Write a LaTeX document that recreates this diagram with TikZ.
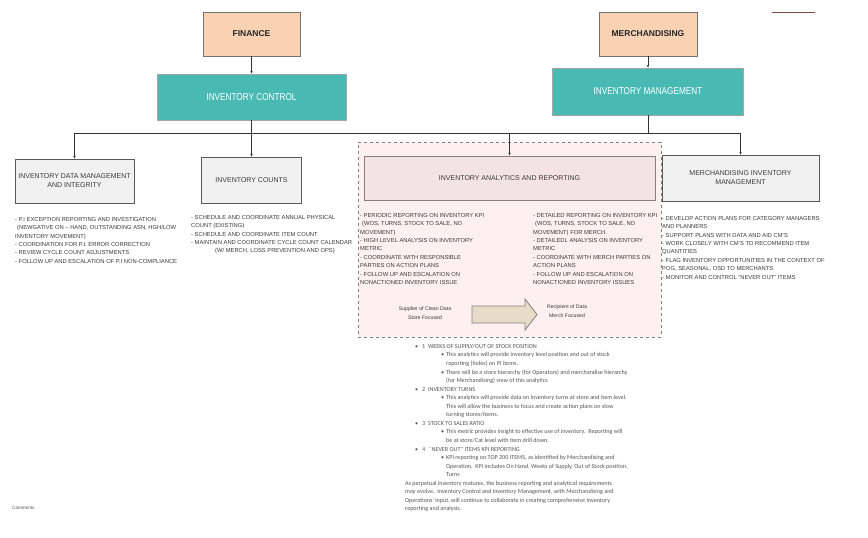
\documentclass[tikz,border=0pt]{standalone}
\usepackage{fontspec}
\setmainfont{Liberation Sans}
\newfontfamily\calfont{Carlito}
\newfontfamily\narrowfont[FakeStretch=0.82]{Liberation Sans}
\usetikzlibrary{arrows.meta}
\definecolor{peach}{HTML}{F9D2B4}
\definecolor{tealfill}{HTML}{48BAB3}
\definecolor{boxgray}{HTML}{F1F1F1}
\definecolor{pinkbg}{HTML}{FDF0F0}
\definecolor{pinkbox}{HTML}{F4E3E3}
\definecolor{mauve}{HTML}{8F7C7C}
\definecolor{beige}{HTML}{E6DDC9}
\definecolor{txt}{HTML}{3A3A3A}
\definecolor{ltxt}{HTML}{555555}
\definecolor{redline}{HTML}{8B4A4A}
\newcommand\bulA[1]{\hspace*{10pt}\makebox[7pt][l]{\textbullet}#1}
\newcommand\bulB[1]{\hspace*{36pt}\makebox[5pt][l]{\textbullet}#1}
\newcommand\contB[1]{\hspace*{41pt}#1}
\begin{document}
\begin{tikzpicture}[x=1pt,y=-1pt,
  orgbox/.style={draw=black!55, line width=0.6pt, inner sep=0pt, align=center},
  peachbox/.style={orgbox, fill=peach, minimum width=97pt, minimum height=44pt,
     font=\bfseries\fontsize{8.5}{10}\selectfont, text=black!85},
  tealbox/.style={orgbox, draw=black!35, fill=tealfill, text=white, minimum height=46pt,
     font=\narrowfont\fontsize{10}{12}\selectfont},
  graybox/.style={orgbox, draw=black!65, fill=boxgray, text=txt,
     font=\fontsize{7}{9}\selectfont},
  bullettext/.style={anchor=north west, align=left, inner sep=0pt, text=txt,
     font=\fontsize{5.8}{8.4}\selectfont},
  smalltext/.style={align=center, inner sep=0pt, text=txt, font=\fontsize{5.2}{8.5}\selectfont},
  conn/.style={draw=black!80, line width=0.5pt},
  arr/.style={conn, -{Stealth[length=3pt,width=2.4pt]}}
]
\useasboundingbox (0,0) rectangle (868,538);
\fill[white] (0,0) rectangle (868,538);

% top-right mark
\draw[redline, line width=0.8pt] (772,12) -- (815,12);

% dashed analytics region
\node[draw=black!50, dashed, line width=0.6pt, fill=pinkbg, minimum width=303pt, minimum height=195pt, inner sep=0pt] (region) at (509.5,239.5) {};

% top level
\node[peachbox] (fin) at (251.5,34) {FINANCE};
\node[peachbox, minimum width=98pt] (mer) at (648,34) {MERCHANDISING};
\node[tealbox, minimum width=189pt] (ic) at (251.5,97) {INVENTORY CONTROL};
\node[tealbox, minimum width=191pt, minimum height=47pt] (im) at (648,91.5) {INVENTORY MANAGEMENT};

% bus
\coordinate (busL) at (74.5,133);
\coordinate (busR) at (740.5,133);

% second level
\node[graybox, minimum width=119pt, minimum height=44pt] (idm) at (74.5,181) {INVENTORY DATA MANAGEMENT\\AND INTEGRITY};
\node[graybox, minimum width=100pt, minimum height=46pt] (cnt) at (251.5,180) {INVENTORY COUNTS};
\node[graybox, draw=mauve, line width=0.8pt, fill=pinkbox, minimum width=291pt, minimum height=44pt] (ana) at (509.5,178) {INVENTORY ANALYTICS AND REPORTING};
\node[graybox, minimum width=157pt, minimum height=46pt] (mim) at (740.5,178) {MERCHANDISING INVENTORY\\MANAGEMENT};

% connectors
\draw[arr] (fin.south) -- (ic.north);
\draw[arr] (mer.south) -- (im.north);
\draw[conn] (busL) -- (busR);
\draw[arr] (ic.south) -- (cnt.north);
\draw[conn] (im.south) -- (im.south |- busR);
\draw[arr] (busL) -- (idm.north);
\draw[arr] (ana.north |- busL) -- (ana.north);
\draw[arr] (busR) -- (mim.north);

% bullet texts
\node[bullettext] (t1) at (15,217) {- P.I EXCEPTION REPORTING AND INVESTIGATION\\
\hspace*{2pt}(NEWGATIVE ON -- HAND, OUTSTANDING ASN, HGH/LOW\\
INVENTORY MOVEMENT)\\
- COORDINATION FOR P.I. ERROR CORRECTION\\
- REVIEW CYCLE COUNT ADJUSTMENTS\\
- FOLLOW UP AND ESCALATION OF P.I NON-COMPLIANCE};

\node[bullettext] (t2) at (191,215) {- SCHEDULE AND COORDINATE ANNUAL PHYSICAL\\
COUNT (EXISTING)\\
- SCHEDULE AND COORDINATE ITEM COUNT\\
- MAINTAIN AND COORDINATE CYCLE COUNT CALENDAR\\
\hspace*{24pt}(W/ MERCH, LOSS PREVENTION AND OPS)};

\node[bullettext] (t3) at (360,213) {- PERIODIC REPORTING ON INVENTORY KPI\\
\hspace*{2pt}(WOS, TURNS, STOCK TO SALE, NO\\
MOVEMENT)\\
- HIGH LEVEL ANALYSIS ON INVENTORY\\
METRIC\\
- COORDINATE WITH RESPONSIBLE\\
PARTIES ON ACTION PLANS\\
- FOLLOW UP AND ESCALATION ON\\
NONACTIONED INVENTORY ISSUE};

\node[bullettext] (t4) at (533,213) {- DETAILED REPORTING ON INVENTORY KPI\\
\hspace*{2pt}(WOS, TURNS, STOCK TO SALE, NO\\
MOVEMENT) FOR MERCH.\\
- DETAILEDL ANALYSIS ON INVENTORY\\
METRIC\\
- COORDINATE WITH MERCH PARTIES ON\\
ACTION PLANS\\
- FOLLOW UP AND ESCALATION ON\\
NONACTIONED INVENTORY ISSUES};

\node[bullettext] (t5) at (662,216) {- DEVELOP ACTION PLANS FOR CATEGORY MANAGERS\\
AND PLANNERS\\
- SUPPORT PLANS WITH DATA AND AID CM'S\\
- WORK CLOSELY WITH CM'S TO RECOMMEND ITEM\\
QUANTITIES\\
- FLAG INVENTORY OPPORTUNITIES IN THE CONTEXT OF\\
POG, SEASONAL, OSD TO MERCHANTS\\
- MONITOR AND CONTROL ``NEVER OUT'' ITEMS};

% flow arrow
\draw[draw=mauve, line width=0.8pt, fill=beige]
  (472,306) -- (525,306) -- (525,299) -- (537,314.5) -- (525,330) -- (525,323) -- (472,323) -- cycle;
\node[smalltext] (sup) at (425,313) {Supplier of Clean Data\\Store Focused};
\node[smalltext] (rec) at (567,311) {Recipient of Data\\Merch Focused};

% bottom notes
\node[anchor=north west, align=left, inner sep=0pt, text=ltxt, font=\calfont\fontsize{6.1}{8.55}\selectfont] (notes) at (405,344) {%
\bulA{1\ \ WEEKS OF SUPPLY/OUT OF STOCK POSITION}\\
\bulB{This analytics will provide inventory level position and out of stock}\\
\contB{reporting (holes) on PI items.}\\
\bulB{There will be a store hierarchy (for Operators) and merchandise hierarchy}\\
\contB{(for Merchandising) view of this analytics}\\
\bulA{2\ \ INVENTORY TURNS}\\
\bulB{This analytics will provide data on inventory turns at store and item level.}\\
\contB{This will allow the business to focus and create action plans on slow}\\
\contB{turning stores/items.}\\
\bulA{3\ \ STOCK TO SALES RATIO}\\
\bulB{This metric provides insight to effective use of inventory.\ \ Reporting will}\\
\contB{be at store/Cat level with item drill down.}\\
\bulA{4\ \ ``NEVER OUT'' ITEMS KPI REPORTING}\\
\bulB{KPI reporting on TOP 200 ITEMS, as identified by Merchandising and}\\
\contB{Operation.\ \ KPI includes On Hand, Weeks of Supply, Out of Stock position,}\\
\contB{Turns}\\
As perpetual inventory matures, the business reporting and analytical requirements\\
may evolve.\ \ Inventory Control and Inventory Management, with Merchandising and\\
Operations' input, will continue to collaborate in creating comprehensive inventory\\
reporting and analysis.};

\node[anchor=west, inner sep=0pt, text=ltxt, font=\fontsize{4.6}{6}\selectfont] (com) at (12,508) {Comments};
\end{tikzpicture}
\end{document}
